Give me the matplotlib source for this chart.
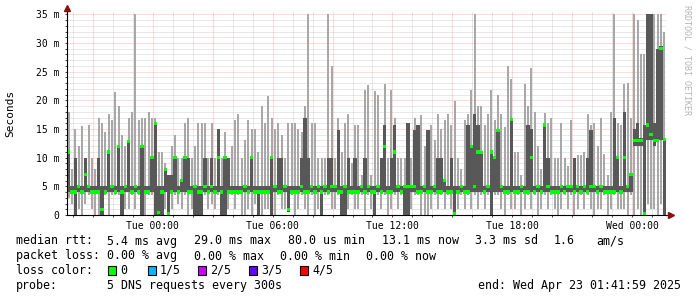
import numpy as np
import pandas as pd
import matplotlib
matplotlib.use('Agg')
import matplotlib.pyplot as plt
import matplotlib.dates as mdates
from matplotlib.ticker import MultipleLocator, FuncFormatter
from matplotlib.patches import Rectangle

# smokeping data, one column per 10 minutes, values in ms
start = pd.Timestamp('2025-04-21 19:42')

hi = [18, 8, 15, 12, 15.5, 10, 15.7, 10, 8, 17,
      16, 14.5, 17.7, 16.5, 21.5, 19, 14, 12, 17, 18,
      35, 16.5, 17, 17, 18, 17, 17, 11, 11, 9,
      7, 12, 14, 10, 10, 16, 17, 10, 12, 16,
      16, 16, 10, 16, 10, 15, 10, 14.5, 10, 12,
      16.5, 17.7, 10, 13, 16.5, 15, 15, 11, 19, 16,
      20.7, 17, 15, 16, 14, 10, 16, 16, 16, 15,
      14.5, 19, 35, 16, 16, 10, 10, 10, 35, 26,
      10, 17, 11, 16, 17.7, 9, 15.7, 15.7, 7, 21.8,
      22.7, 7, 21.7, 21, 10, 22.9, 10, 21.8, 17, 10,
      10, 10, 16, 10, 17, 15.7, 17.4, 12, 14.8, 15.7,
      13, 17.7, 15, 16.5, 17.7, 15.7, 19.8, 10, 8, 16.5,
      17.7, 21.8, 35, 19, 19, 15.7, 17.7, 21.8, 16.5, 21,
      17.7, 15.4, 26, 23.8, 11, 11, 7, 22.8, 19, 25.7,
      18, 12, 8, 17.8, 16, 16.9, 10, 10, 16, 10,
      8.5, 16.6, 10, 10.5, 10.5, 11, 17.7, 15.7, 16, 12,
      16.9, 10.7, 7, 18, 35, 16, 15.7, 22.8, 23, 17,
      35, 34, 28, 28, 35, 35, 35, 35, 35, 32]

ihi = [11, 5, 10, 5, 5, 10, 5, 5, 5, 10,
       5, 5, 11, 5, 5, 12, 5, 5, 12.8, 5,
       5, 5, 12, 5, 5, 10, 16, 5, 5, 8,
       7, 7, 10, 5, 6, 10, 10, 5, 5, 5,
       5, 10, 5, 10, 5, 15, 5, 10, 10, 5,
       5, 5, 5, 5, 5, 10, 5, 5, 5, 5,
       5, 10, 5, 10, 10, 5, 5, 5, 5, 5,
       10, 17, 10, 5, 5, 5, 5, 5, 10, 10,
       5, 14.8, 5, 5, 10, 5, 10, 5, 5, 10,
       5, 5, 5, 5, 10, 15.7, 5, 10, 15.7, 5,
       5, 5, 16, 5, 14.8, 15.7, 5, 5, 14.8, 5,
       5, 10, 10, 6, 5, 10, 5, 5, 5, 5,
       15.7, 12, 17.7, 15.7, 10.9, 5, 5, 11, 10, 14.8,
       5, 5, 5, 16.7, 5, 5, 5, 5, 15.7, 15,
       5, 5, 5, 15.7, 10, 5, 5, 5, 5, 5,
       5, 5, 10, 5, 5, 5, 10, 14.8, 5, 5,
       5, 5, 5, 5, 16.9, 10, 5, 18, 5, 7,
       15, 16, 13.5, 15.7, 35, 35, 16, 28.9, 29.5, 13.5]

med = [11, 4, 4, 5, 4, 7, 5, 4, 4, 4,
       1, 4, 11, 5, 4, 12, 4, 5, 12.8, 4,
       5, 4, 12, 4, 4, 10, 16, 0.4, 4, 8,
       0.2, 4, 10, 4, 6, 10, 4, 4, 5, 4,
       4, 5, 4, 5, 4, 10, 4, 10, 4, 4,
       4, 4, 4, 5, 4, 10, 4, 4, 4, 4,
       4, 10, 5, 4, 4, 5, 1, 4, 4, 4,
       5, 4, 4, 5, 4, 5, 4, 5, 4, 5,
       5, 4, 4, 5, 4, 4, 4, 4, 5, 4,
       5, 4, 4, 5, 4, 12, 4, 4, 11, 5,
       4, 5, 5, 5, 5, 4, 4, 5, 4, 4,
       5, 4, 4, 6, 4, 4, 0.2, 4, 5, 4,
       4, 12, 5, 11, 10.9, 4, 5, 11, 10, 14.8,
       5, 4, 4, 16.7, 4, 4, 5, 4, 4, 10,
       4, 5, 4, 15.7, 5, 4, 4, 4, 5, 4,
       5, 5, 4, 5, 4, 5, 4, 5, 5, 4,
       5, 4, 4, 4, 4, 10, 4, 10, 5, 7,
       13, 13, 13, 0.3, 15.7, 14, 13, 13, 29, 13.1]

ilo = [4, 4, 0, 4, 4, 4, 4, 4, 4, 4,
       0, 4, 4, 4, 4, 4, 0, 4, 4, 4,
       4, 4, 0, 4, 4, 4, 0, 0, 0, 4,
       0, 4, 4, 4, 4, 4, 4, 4, 0, 0,
       0, 4, 4, 4, 4, 4, 0, 0, 4, 4,
       4, 4, 4, 4, 4, 4, 4, 0, 4, 4,
       4, 0, 4, 4, 4, 4, 0.6, 4, 4, 4,
       4, 4, 4, 4, 4, 4, 0, 4, 4, 4,
       4, 4, 0, 0, 4, 4, 4, 4, 4, 4,
       4, 4, 0, 4, 4, 4, 4, 4, 4, 4,
       4, 0, 0, 4, 4, 4, 4, 4, 4, 4,
       4, 4, 4, 4, 4, 4, 0, 4, 4, 4,
       4, 4, 4, 4, 4, 4, 4, 0, 4, 4,
       4, 4, 4, 4, 4, 4, 4, 4, 4, 4,
       4, 4, 4, 4, 4, 4, 4, 4, 4, 4,
       4, 4, 4, 4, 4, 4, 4, 4, 4, 4,
       4, 4, 4, 4, 4, 4, 4, 4, 4, 4,
       12, 12, 12, 0, 13, 13, 12, 13, 13, 0]

lo = [3, 2, 0, 1, 0, 2, 3.5, 1, 0, 0,
      0, 3.5, 0, 3.5, 3.5, 3.5, 0, 1, 1, 3.5,
      1, 3.5, 0, 0, 3.5, 3.5, 0, 0, 0, 1,
      0, 1, 3.5, 2, 1, 3.5, 0, 1, 0, 0,
      0, 3.5, 1, 2, 1, 3.5, 0, 0, 1, 3.5,
      1, 3.5, 0, 0, 1, 0, 2, 0, 0, 1,
      1, 0, 0, 3.5, 1, 1, 0.6, 3.5, 0, 1,
      3.5, 1, 0, 3.5, 0, 1, 0, 3.5, 3.5, 1,
      1, 3.5, 0, 0, 1, 3.5, 1, 1, 3.5, 0,
      3.5, 1, 0, 3.5, 1, 3.5, 0, 1, 3.5, 1,
      3.5, 0, 0, 1, 3.5, 3.5, 0, 0, 0, 1,
      3.5, 1, 3.5, 1, 3.5, 1, 0, 1, 3.5, 1,
      3.5, 1, 3.5, 1, 3.5, 1, 3.5, 0, 3.5, 3.5,
      1, 0, 3.5, 1, 1, 3.5, 0, 1, 3.5, 1,
      3.5, 0, 1, 3.5, 1, 3.5, 1, 0, 1, 3.5,
      1, 3.5, 0, 1, 3.5, 1, 3.5, 1, 0, 1,
      1, 3.5, 0, 1, 3.5, 1, 1, 1, 0, 3.5,
      0, 1, 0, 0, 2, 1, 1, 0, 2, 0]

loss_labels = ['0', '1/5', '2/5', '3/5', '4/5']
loss_colors = ['#00ff00', '#00b8ff', '#cc00ff', '#6600ff', '#ff0000']

mono = 'DejaVu Sans Mono'
plt.rcParams['font.family'] = mono

W, H = 697, 297
fig = plt.figure(figsize=(W / 100, H / 100), dpi=100)
ax = fig.add_axes([67 / W, 1 - 215 / H, 599 / W, 203.5 / H])

times = pd.date_range(start, periods=len(hi), freq='10min')
x = mdates.date2num(times.values)
w = 10 / 1440.0

hi_a, ihi_a, med_a, ilo_a, lo_a = map(np.array, (hi, ihi, med, ilo, lo))

# smoke: outer pings light, inner pings dark, thin columns so the white shows between
ax.bar(x + 0.2 * w, hi_a - lo_a, bottom=lo_a, width=0.6 * w, align='edge', color='#a8a8a8',
       linewidth=0, antialiased=False, zorder=2)
ax.bar(x, ihi_a - ilo_a, bottom=ilo_a, width=w, align='edge', color='#585858',
       linewidth=0, antialiased=False, zorder=3)
ax.bar(x, 0.55, bottom=med_a - 0.275, width=w, align='edge', color=loss_colors[0],
       linewidth=0, antialiased=False, zorder=4)

ax.set_xlim(mdates.date2num(start), mdates.date2num(start + pd.Timedelta(hours=30)))
ax.set_ylim(0, 35.5)

ax.xaxis.set_major_locator(mdates.HourLocator(byhour=range(0, 24, 3)))
ax.xaxis.set_minor_locator(mdates.HourLocator())


def xfmt(v, pos):
    d = mdates.num2date(v)
    return d.strftime('%a %H:%M') if d.hour % 6 == 0 else ''


ax.xaxis.set_major_formatter(FuncFormatter(xfmt))
ax.yaxis.set_major_locator(MultipleLocator(5))
ax.yaxis.set_minor_locator(MultipleLocator(1))
ax.yaxis.set_major_formatter(FuncFormatter(lambda v, p: '0' if v == 0 else '%g m' % v))

ax.grid(which='major', color='#ff0000', alpha=0.28, linestyle=(0, (1, 1)), linewidth=0.72)
ax.grid(which='minor', color='#808080', alpha=0.35, linestyle=(0, (1, 1)), linewidth=0.72)
ax.set_axisbelow(True)

ax.tick_params(which='both', labelsize=7, direction='out', length=1.5, width=0.7, color='#404040')
ax.tick_params(axis='y', pad=4)
ax.tick_params(axis='x', pad=3)

for s in ('top', 'right'):
    ax.spines[s].set_visible(False)
for s in ('left', 'bottom'):
    ax.spines[s].set_linewidth(0.8)
    ax.spines[s].set_color('black')
    ax.spines[s].set_zorder(5)

# rrdtool axis arrows
ax.plot([0, 0], [1, 1.012], transform=ax.transAxes, color='black', lw=0.8, clip_on=False)
ax.plot([1, 1.007], [0, 0], transform=ax.transAxes, color='black', lw=0.8, clip_on=False)
ax.plot([0], [1.015], marker='^', markersize=4, color='#8b1010', transform=ax.transAxes, clip_on=False)
ax.plot([1.008], [0], marker='>', markersize=4, color='#8b1010', transform=ax.transAxes, clip_on=False)

fig.text(10 / W, 1 - 113 / H, 'Seconds', rotation=90, ha='center', va='center', fontsize=8)
fig.text(687 / W, 1 - 5 / H, 'RRDTOOL / TOBI OETIKER', rotation=270, ha='center', va='top',
         fontsize=6, color='#b4b4b4')


def put(px, py, s, **kw):
    fig.text(px / W, 1 - py / H, s, fontsize=8.4, va='center', **kw)


put(16, 241, 'median rtt:')
for px, s in [(107, '5.4 ms avg'), (194, '29.0 ms max'), (288, '80.0 us min'),
              (382, '13.1 ms now'), (475, '3.3 ms sd'), (554, '1.6'), (596, 'am/s')]:
    put(px, 241, s)

put(16, 256, 'packet loss:')
for px, s in [(107, '0.00 % avg'), (194, '0.00 % max'), (280, '0.00 % min'), (366, '0.00 % now')]:
    put(px, 256, s)

put(16, 270, 'loss color:')
box_x = [108, 148, 198, 249, 300]
for bx, lab, col in zip(box_x, loss_labels, loss_colors):
    fig.patches.append(Rectangle((bx / W, 1 - 274.5 / H), 8 / W, 9 / H, transform=fig.transFigure,
                                 facecolor=col, edgecolor='black', linewidth=0.8))
    put(bx + 12, 270, lab)

put(16, 285, 'probe:')
put(107, 285, '5 DNS requests every 300s')
put(681, 285, 'end: Wed Apr 23 01:41:59 2025', ha='right')

fig.savefig('out.png', dpi=100)
